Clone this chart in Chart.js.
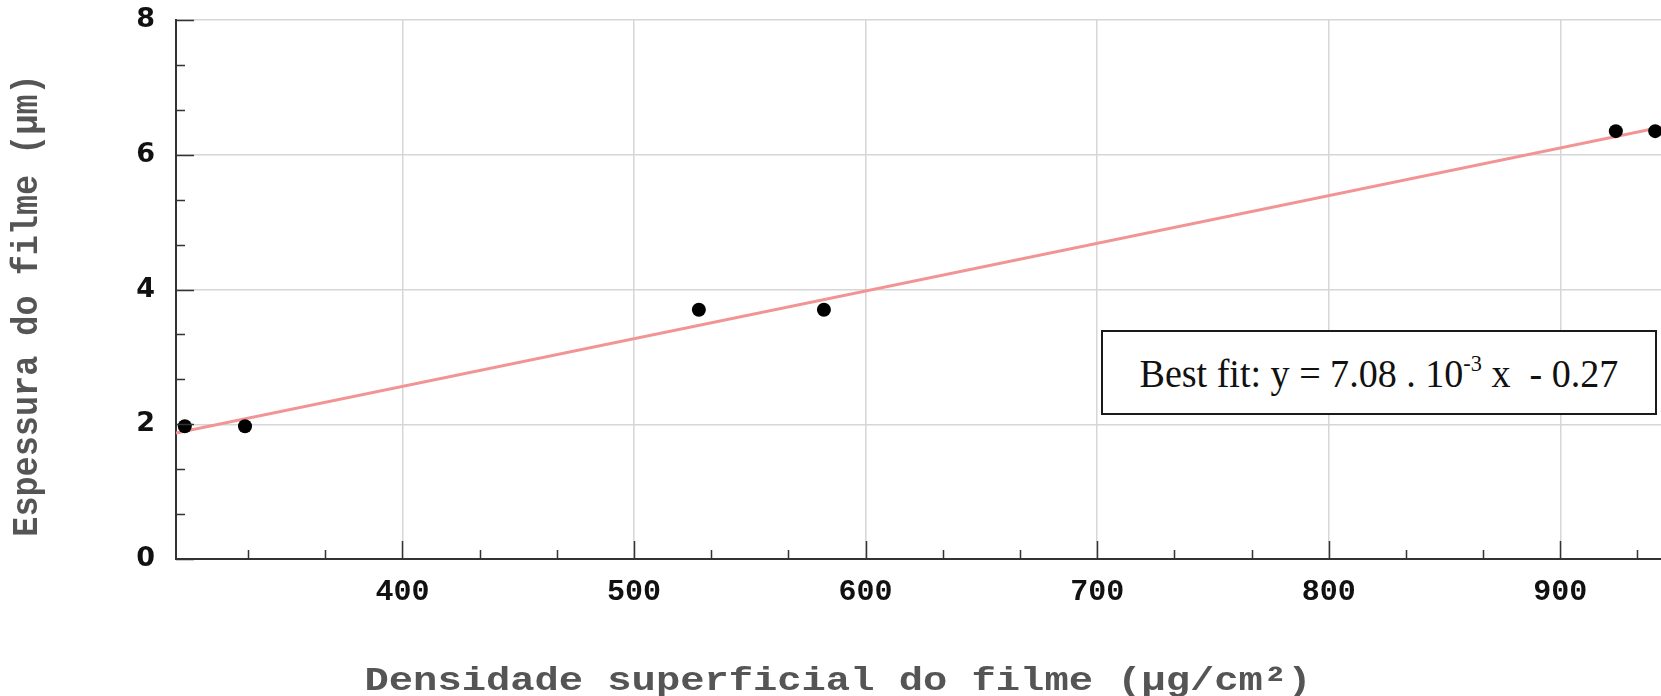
<!DOCTYPE html>
<html>
<head>
<meta charset="utf-8">
<script src="https://cdn.jsdelivr.net/npm/chart.js@4"></script>
<style>
  html, body { margin: 0; padding: 0; background: #fff; overflow: hidden; }
  #wrap { position: relative; width: 1661px; height: 696px; }
  #note {
    position: absolute; left: 1101px; top: 330px; width: 552px; height: 81px;
    border: 2px solid #1a1a1a; background: #fff;
    display: flex; align-items: center; justify-content: center;
  }
  #noteText {
    font-family: "Liberation Serif", serif; font-size: 41px; color: #111;
    white-space: pre; display: inline-block; transform-origin: center center;
    line-height: 1; margin-top: 2px;
  }
  #noteText sup { font-size: 24px; vertical-align: 0; position: relative; top: -16px; }
</style>
</head>
<body>
<div id="wrap">
  <canvas id="c" width="1661" height="696"></canvas>
  <div id="note"><span id="noteText">Best fit: y = 7.08 . 10<sup>-3</sup> x  - 0.27</span></div>
</div>
<script>
// ---- data ----
const densidade = [306, 332, 528, 582, 924, 941];          // µg/cm²
const espessura = [1.97, 1.97, 3.70, 3.70, 6.35, 6.35];    // µm
const fitX = [302.2, 943.5];
const fitY = [1.87, 6.41];
const xTickValues = [400, 500, 600, 700, 800, 900];
const yTickValues = [0, 2, 4, 6, 8];
const xRange = [302.2, 943.5];
const yRange = [0, 8];
const xMinorStep = 100 / 3;
const yMinorStep = 2 / 3;
const xTitle = 'Densidade superficial do filme (µg/cm²)';
const yTitle = 'Espessura do filme (µm)';

const decorations = {
  id: 'decorations',
  afterDraw(chart) {
    const ctx = chart.ctx, xs = chart.scales.x, ys = chart.scales.y;
    const left = chart.chartArea.left, bottom = chart.chartArea.bottom;
    ctx.save();
    ctx.strokeStyle = '#333';
    ctx.lineWidth = 1.5;
    ctx.beginPath();
    const n = Math.round((ys.max - ys.min) / yMinorStep);
    for (let i = 0; i <= n; i++) {
      const v = ys.min + i * yMinorStep;
      const major = i % 3 === 0;
      const y = Math.round(ys.getPixelForValue(v)) + 0.5;
      ctx.moveTo(left, y);
      ctx.lineTo(left + (major ? 18 : 9), y);
    }
    const start = Math.ceil(xs.min / xMinorStep);
    for (let k = start; k * xMinorStep <= xs.max + 1e-9; k++) {
      const v = k * xMinorStep;
      const major = k % 3 === 0;
      const x = Math.round(xs.getPixelForValue(v)) + 0.5;
      ctx.moveTo(x, bottom);
      ctx.lineTo(x, bottom - (major ? 18 : 9));
    }
    ctx.stroke();
    ctx.restore();

    // axis titles (horizontally widened like the reference)
    ctx.save();
    ctx.fillStyle = '#555';
    ctx.textAlign = 'center';
    ctx.textBaseline = 'middle';
    ctx.font = 'bold 34px "Liberation Mono"';
    ctx.translate(838, 681);
    ctx.scale(1.19, 1);
    ctx.fillText(xTitle, 0, 0);
    ctx.restore();

    ctx.save();
    ctx.fillStyle = '#555';
    ctx.textAlign = 'center';
    ctx.textBaseline = 'middle';
    ctx.font = 'bold 33.5px "Liberation Mono"';
    ctx.translate(27.5, 305.5);
    ctx.rotate(-Math.PI / 2);
    ctx.scale(1, 1.12);
    ctx.fillText(yTitle, 0, 0);
    ctx.restore();
  }
};

new Chart(document.getElementById('c'), {
  type: 'scatter',
  data: {
    datasets: [
      {
        label: 'dados',
        data: densidade.map((x, i) => ({ x, y: espessura[i] })),
        backgroundColor: '#000',
        borderColor: '#000',
        pointRadius: 7,
        pointBorderWidth: 0,
        order: 0
      },
      {
        label: 'ajuste',
        data: fitX.map((x, i) => ({ x, y: fitY[i] })),
        showLine: true,
        borderColor: '#f29494',
        borderWidth: 3,
        pointRadius: 0,
        order: 1
      }
    ]
  },
  options: {
    responsive: false,
    animation: false,
    devicePixelRatio: 1,
    layout: { autoPadding: false, padding: { top: 20, right: 0, bottom: 0, left: 0 } },
    plugins: { legend: { display: false }, tooltip: { enabled: false } },
    scales: {
      x: {
        type: 'linear',
        min: xRange[0], max: xRange[1],
        afterBuildTicks: s => { s.ticks = xTickValues.map(v => ({ value: v })); },
        afterFit: s => { s.height = 137; s.paddingLeft = 0; s.paddingRight = 0; },
        ticks: {
          font: { family: 'Liberation Mono', size: 30, weight: 'bold' },
          color: '#111', padding: 15, maxRotation: 0, autoSkip: false
        },
        grid: { color: '#d6d6d6', lineWidth: 1.5, drawTicks: false },
        border: { color: '#333', width: 2 },
        title: { display: false, text: xTitle }
      },
      y: {
        type: 'linear',
        min: yRange[0], max: yRange[1],
        afterBuildTicks: s => { s.ticks = yTickValues.map(v => ({ value: v })); },
        afterFit: s => { s.width = 176; s.paddingTop = 0; s.paddingBottom = 0; },
        ticks: {
          font: { family: 'DejaVu Sans', size: 27, weight: 'bold' },
          color: '#111', padding: 21
        },
        grid: { color: '#d6d6d6', lineWidth: 1.5, drawTicks: false },
        border: { color: '#333', width: 2 },
        title: { display: false, text: yTitle }
      }
    }
  },
  plugins: [decorations]
});

// fit annotation text to the reference width
const t = document.getElementById('noteText');
const w = t.offsetWidth;
if (w > 0) t.style.transform = 'scaleX(' + (479 / w).toFixed(4) + ')';
</script>
</body>
</html>
